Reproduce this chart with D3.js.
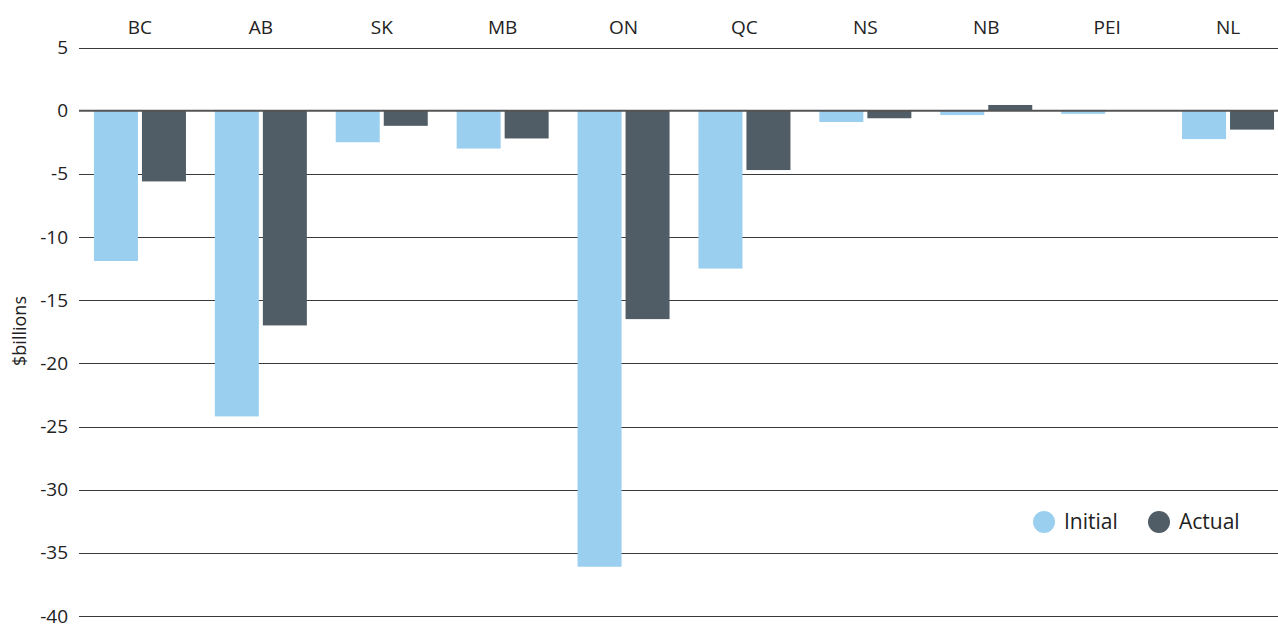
<!DOCTYPE html>
<html>
<head>
<meta charset="utf-8">
<script src="https://cdn.jsdelivr.net/npm/d3@7"></script>
<style>
  body { margin: 0; background: #fff; }
  text { font-family: "Open Sans", "Noto Sans", sans-serif; fill: #222; }
</style>
</head>
<body>
<div id="vis"></div>
<script>
const width = 1278;
const height = 624;

const provinces = ["BC", "AB", "SK", "MB", "ON", "QC", "NS", "NB", "PEI", "NL"];
const series = ["Initial", "Actual"];
const initial = [-11.9, -24.2, -2.5, -3.0, -36.1, -12.5, -0.9, -0.35, -0.25, -2.25];
const actual = [-5.6, -17.0, -1.2, -2.2, -16.5, -4.7, -0.6, 0.45, 0, -1.5];
const yTicks = [5, 0, -5, -10, -15, -20, -25, -30, -35, -40];
const colors = ["#9bcff0", "#505d66"];

const rows = provinces.map((p, i) => ({ prov: p, Initial: initial[i], Actual: actual[i] }));

const svg = d3.select("#vis")
	.append("svg")
		.attr("width", width)
		.attr("height", height);

const x0 = d3.scaleBand()
	.domain(provinces)
	.range([79.5, 1288.5]);

const x1 = d3.scaleBand()
	.domain(series)
	.range([0, x0.bandwidth()])
	.paddingInner(0.0833)
	.paddingOuter(0.301);

const y = d3.scaleLinear()
	.domain([5, -40])
	.range([47.5, 616]);

const color = d3.scaleOrdinal().domain(series).range(colors);

// grid lines
svg.append("g")
	.selectAll("line")
	.data(yTicks.filter(d => d !== 0))
	.enter()
	.append("line")
		.attr("x1", 79)
		.attr("x2", width)
		.attr("y1", d => Math.round(y(d)) + 0.5)
		.attr("y2", d => Math.round(y(d)) + 0.5)
		.attr("stroke", "#3a3a3a")
		.attr("stroke-width", 1.2);

// y tick labels
svg.append("g")
	.selectAll("text")
	.data(yTicks)
	.enter()
	.append("text")
		.attr("x", 68)
		.attr("y", d => y(d))
		.attr("dy", "0.35em")
		.attr("text-anchor", "end")
		.style("font-size", "19px")
		.text(d => d);

// bars
svg.append("g")
	.selectAll("g")
	.data(rows)
	.enter()
	.append("g")
		.attr("transform", d => `translate(${x0(d.prov)},0)`)
	.selectAll("rect")
	.data(d => series.map(s => ({ key: s, value: d[s] })))
	.enter()
	.append("rect")
		.attr("x", d => x1(d.key))
		.attr("width", x1.bandwidth())
		.attr("y", d => y(Math.max(0, d.value)))
		.attr("height", d => Math.abs(y(d.value) - y(0)))
		.attr("fill", d => color(d.key));

// zero line
svg.append("line")
	.attr("x1", 79)
	.attr("x2", width)
	.attr("y1", y(0))
	.attr("y2", y(0))
	.attr("stroke", "#555")
	.attr("stroke-width", 2);

// category labels on top
svg.append("g")
	.selectAll("text")
	.data(provinces)
	.enter()
	.append("text")
		.attr("x", d => x0(d) + x0.bandwidth() / 2)
		.attr("y", 27)
		.attr("dy", "0.35em")
		.attr("text-anchor", "middle")
		.style("font-size", "19px")
		.text(d => d);

// y axis title
svg.append("text")
	.attr("transform", "translate(26,331) rotate(-90)")
	.attr("text-anchor", "middle")
	.style("font-size", "18px")
	.text("$billions");

// legend
const legend = svg.append("g")
	.selectAll("g")
	.data(series)
	.enter()
	.append("g")
		.attr("transform", (d, i) => `translate(${[1044, 1159][i]},522)`);

legend.append("circle")
	.attr("r", 11)
	.attr("fill", d => color(d));

legend.append("text")
	.attr("x", 20)
	.attr("dy", "0.35em")
	.style("font-size", "21px")
	.text(d => d);
</script>
</body>
</html>
